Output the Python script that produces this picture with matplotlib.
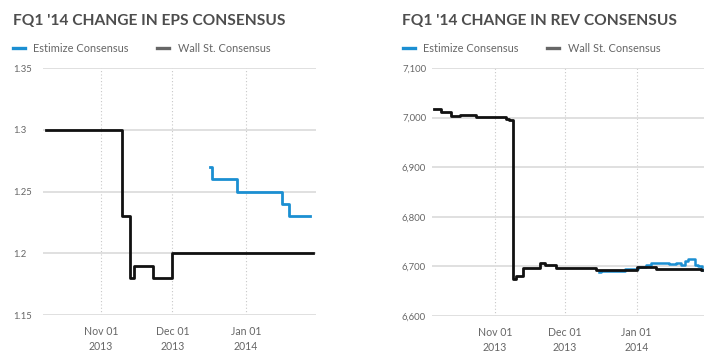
import numpy as np
import pandas as pd
import matplotlib
matplotlib.use("Agg")
import matplotlib.pyplot as plt
import matplotlib.dates as mdates
from matplotlib.lines import Line2D
from matplotlib.ticker import FixedLocator, FuncFormatter

plt.rcParams['font.family'] = ['Lato', 'DejaVu Sans']

# ---- data ----
eps_ws_dates = ["2013-10-09", "2013-11-10", "2013-11-13", "2013-11-15",
                "2013-11-23", "2013-12-01", "2014-01-29"]
eps_ws_vals = [1.30, 1.23, 1.18, 1.19, 1.18, 1.20, 1.20]

eps_est_dates = ["2013-12-17 00:00", "2013-12-17 12:00", "2013-12-28",
                 "2014-01-16", "2014-01-19", "2014-01-28"]
eps_est_vals = [1.27, 1.26, 1.25, 1.24, 1.23, 1.23]

rev_ws_dates = ["2013-10-06", "2013-10-09", "2013-10-13", "2013-10-17",
                "2013-10-24", "2013-11-06", "2013-11-07", "2013-11-08 20:00",
                "2013-11-10", "2013-11-13", "2013-11-20 12:00", "2013-11-22 12:00",
                "2013-11-27 12:00", "2013-12-14 12:00", "2014-01-01", "2014-01-09 12:00",
                "2014-01-28 12:00", "2014-01-29"]
rev_ws_vals = [7018, 7012, 7003, 7005, 7001, 6998, 6995, 6675, 6680, 6696,
               6707, 6702, 6697, 6693, 6698, 6695, 6693, 6693]

rev_est_dates = ["2013-12-16", "2013-12-16 12:00", "2013-12-27", "2014-01-01 12:00",
                 "2014-01-05", "2014-01-07", "2014-01-15", "2014-01-18",
                 "2014-01-20", "2014-01-22", "2014-01-23", "2014-01-25",
                 "2014-01-26", "2014-01-27 12:00", "2014-01-29"]
rev_est_vals = [6688, 6691, 6694, 6699, 6703, 6707, 6705, 6706, 6703, 6711,
                6714, 6715, 6703, 6700, 6692]

eps_ticks = [1.15, 1.2, 1.25, 1.3, 1.35]
rev_ticks = [6600, 6700, 6800, 6900, 7000, 7100]
month_ticks = ["2013-11-01", "2013-12-01", "2014-01-01"]

BLUE = "#1b8fd2"
BLACK = "#111111"
GRID = "#dddddd"
TXT = "#666666"
TITLE = "#4d4d4d"

W, H = 721, 359
fig = plt.figure(figsize=(W / 100, H / 100), dpi=100)


def dt(seq):
    return pd.to_datetime(list(seq), format='ISO8601')


def fx(px):
    return px / W


def fy(py):
    return 1 - py / H


def setup(ax, ticks, fmt, label_x, xlim):
    ax.set_ylim(ticks[0], ticks[-1])
    ax.set_xlim(dt(xlim)[0], dt(xlim)[1])
    for s in ax.spines.values():
        s.set_visible(False)
    ax.yaxis.set_major_locator(FixedLocator(ticks))
    ax.yaxis.set_major_formatter(FuncFormatter(fmt))
    ax.xaxis.set_major_locator(FixedLocator(mdates.date2num(dt(month_ticks))))
    ax.xaxis.set_major_formatter(mdates.DateFormatter("%b %d\n%Y"))
    ax.tick_params(length=0, labelsize=7.6, labelcolor=TXT)
    ax.tick_params(axis='x', pad=8)
    ax.grid(True, axis='y', color=GRID, lw=1.3)
    ax.grid(True, axis='x', color="#c8c8c8", lw=0.8, ls=(0, (1, 2)))
    ax.set_axisbelow(True)
    # y labels left-aligned at label_x px
    left_px = ax.get_position().x0 * W
    ax.tick_params(axis='y', pad=(left_px - label_x) * 0.72, labelsize=6.8)
    for lab in ax.get_yticklabels():
        lab.set_horizontalalignment('left')
    for lab in ax.get_xticklabels():
        lab.set_linespacing(1.45)


def legend(ax, x_px):
    handles = [Line2D([], [], color=BLUE, lw=2.4), Line2D([], [], color="#666666", lw=2.4)]
    ax.legend(handles, ["Estimize Consensus", "Wall St. Consensus"], ncol=2,
              loc='center left', bbox_to_anchor=(fx(x_px), fy(48)),
              bbox_transform=fig.transFigure, frameon=False, fontsize=7.9,
              labelcolor=TXT, handlelength=1.05, handletextpad=0.8,
              columnspacing=2.6, borderpad=0, borderaxespad=0)


# ---- EPS ----
ax1 = fig.add_axes([fx(43), fy(315), fx(316 - 43), (315 - 68) / H])
ax1.step(dt(eps_ws_dates), eps_ws_vals, where='post', color=BLACK, lw=2)
ax1.step(dt(eps_est_dates), eps_est_vals, where='post', color=BLUE, lw=2)
setup(ax1, eps_ticks, lambda v, p: f"{v:g}", 13, ("2013-10-07 14:00", "2014-01-30 10:00"))
legend(ax1, 13)
fig.text(fx(13), fy(25), "FQ1 '14 CHANGE IN EPS CONSENSUS", fontsize=11.2,
         fontweight='bold', color=TITLE, va='baseline')

# ---- REV ----
ax2 = fig.add_axes([fx(432), fy(316), fx(704 - 432), (316 - 68) / H])
ax2.step(dt(rev_est_dates), rev_est_vals, where='post', color=BLUE, lw=1.8)
ax2.step(dt(rev_ws_dates), rev_ws_vals, where='post', color=BLACK, lw=2)
setup(ax2, rev_ticks, lambda v, p: f"{v:,.0f}", 402, ("2013-10-05", "2014-01-30"))
legend(ax2, 403)
fig.text(fx(402), fy(25), "FQ1 '14 CHANGE IN REV CONSENSUS", fontsize=11.2,
         fontweight='bold', color=TITLE, va='baseline')

fig.savefig("out.png", dpi=100)
